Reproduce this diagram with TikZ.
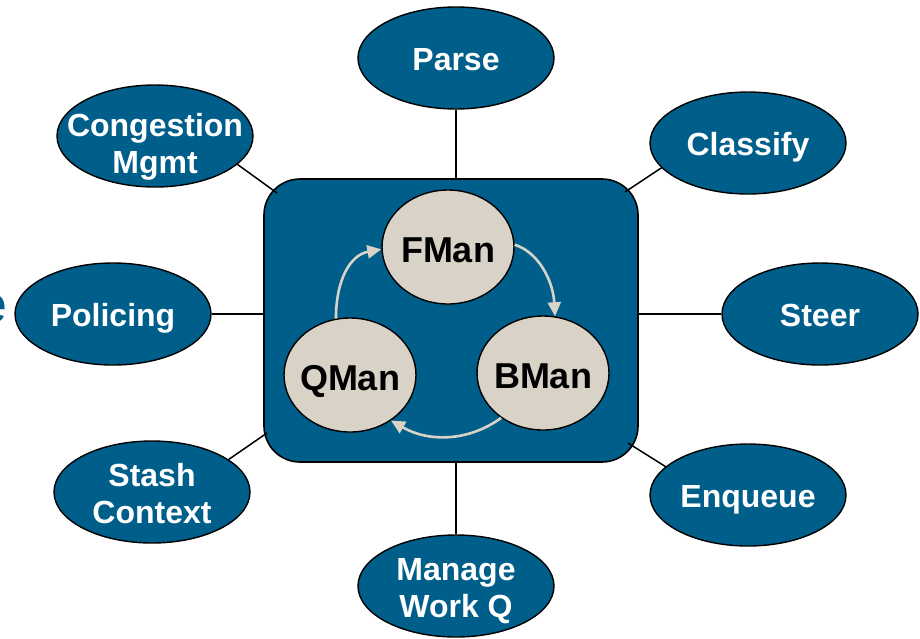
\documentclass[tikz,border=0pt]{standalone}
\usepackage{fontspec}
\setmainfont{Liberation Sans}
\usetikzlibrary{shapes.geometric,arrows.meta}
\definecolor{dpblue}{RGB}{0,95,138}
\definecolor{dpsand}{RGB}{217,210,199}
% two centred lines, lowered by #1 inside their ellipse
\newcommand{\pairlines}[3]{%
  \raisebox{-#1}[0pt][0pt]{\begin{tabular}[c]{@{}c@{}}#2\\#3\end{tabular}}}
\tikzset{
  task/.style={ellipse, draw=black, line width=1.4pt, fill=dpblue, text=white,
    minimum width=196pt, minimum height=102pt, inner sep=-22pt,
    text height=30pt, text depth=5pt,
    font=\fontsize{32}{37}\selectfont\bfseries},
  pair/.style={text height=, text depth=},
  engine/.style={ellipse, draw=black, line width=1.4pt, fill=dpsand, text=black,
    minimum width=132pt, minimum height=114pt, inner sep=-10pt,
    text height=34pt, text depth=4pt,
    font=\fontsize{36}{40}\selectfont\bfseries},
  link/.style={draw=black, line width=1.5pt},
  cycle/.style={draw=dpsand, line width=2.6pt,
    -{Triangle[length=14pt,width=13pt]}},
}
\begin{document}
\begin{tikzpicture}[x=1pt,y=-1pt]
\useasboundingbox (0,0) rectangle (920,638);
\clip (0,0) rectangle (920,638);

% fragment of a heading running off the left edge
\node[anchor=base east, inner sep=0pt, text=dpblue,
      font=\fontsize{52}{60}\selectfont] (headtail) at (8,322) {e};

% central block
\node[draw=black, line width=1.6pt, fill=dpblue, rounded corners=36pt,
      minimum width=374pt, minimum height=283pt, inner sep=0pt] (core) at (451,320.5) {};
\coordinate (coreTL) at (277,193);
\coordinate (coreTR) at (625,192);
\coordinate (coreBL) at (267,433);
\coordinate (coreBR) at (628,443);

% surrounding tasks
\node[task] (parse)  at (456,58)  {Parse};
\node[task,pair] (cong) at (155,136) {\pairlines{18pt}{Congestion}{Mgmt}};
\node[task] (class)  at (748,143) {Classify};
\node[task] (police) at (113,314) {Policing};
\node[task] (steer)  at (820,314) {Steer};
\node[task,pair] (stash) at (152,492) {\pairlines{12pt}{Stash}{Context}};
\node[task] (enq)    at (748,495) {Enqueue};
\node[task,pair] (mwq) at (456,586) {\pairlines{12pt}{Manage}{Work Q}};

% connectors to the block
\draw[link] (parse.south) -- (parse.south |- core.north);
\draw[link] (mwq.north) -- (mwq.north |- core.south);
\draw[link] (police.east) -- (police.east -| core.west);
\draw[link] (steer.west) -- (steer.west -| core.east);
\draw[link] (cong.-19) -- (coreTL);
\draw[link] (class.-164) -- (coreTR);
\draw[link] (stash.23) -- (coreBL);
\draw[link] (enq.161) -- (coreBR);

% managers
\node[engine] (fman) at (448,247) {FMan};
\node[engine] (qman) at (350,375) {QMan};
\node[engine] (bman) at (543,373) {BMan};

% cycle between managers
\draw[cycle] (qman.104) .. controls (336,280) and (350,255) .. (fman.182);
\draw[cycle] (fman.2) .. controls (538,252) and (553,280) .. (bman.78);
\draw[cycle] (bman.227) .. controls (468,442) and (428,442) .. (qman.312);
\end{tikzpicture}
\end{document}
